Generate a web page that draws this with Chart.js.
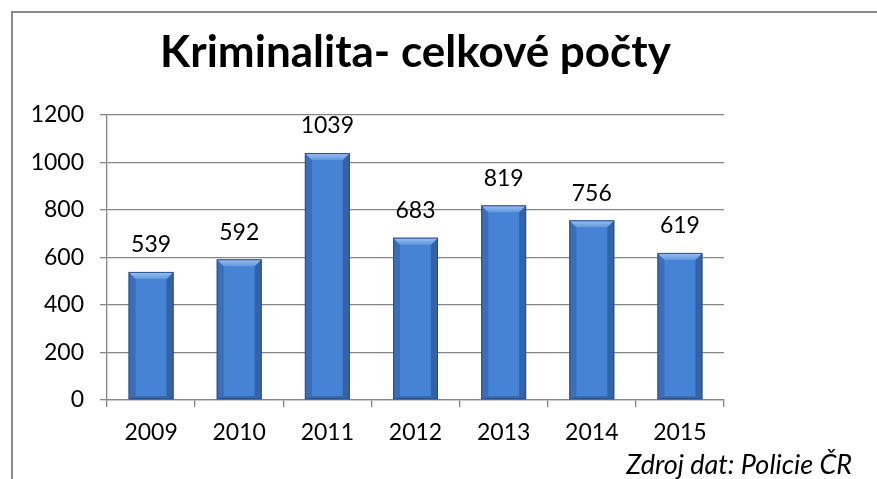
<!DOCTYPE html>
<html lang="cs">
<head>
    <meta charset="UTF-8">
    <title>Kriminalita</title>
    <script src="https://cdn.jsdelivr.net/npm/chart.js"></script>
    <style>
        body { margin: 0; background: #fff; }
        .ramecek {
            position: absolute; left: 11px; top: 11px; right: 0; bottom: 0;
            border-top: 2px solid #8c8c8c; border-left: 2px solid #8c8c8c;
        }
        .graf { position: absolute; left: 0; top: 0; width: 877px; height: 479px; }
    </style>
</head>
<body>
    <div class="ramecek"></div>
    <div class="graf"><canvas id="myChart" width="877" height="479"></canvas></div>

<script>
    var roky = ['2009', '2010', '2011', '2012', '2013', '2014', '2015'];
    var pocty = [539, 592, 1039, 683, 819, 756, 619];
    var nadpis = 'Kriminalita- celkové počty';
    var zdroj = 'Zdroj dat: Policie ČR';

    var seda = '#868686';

    // popisky nad sloupci
    var popisky = {
        id: 'popisky',
        afterDatasetsDraw: function (chart) {
            var ctx = chart.ctx;
            var meta = chart.getDatasetMeta(0);
            ctx.save();
            ctx.font = '23px Lato';
            ctx.fillStyle = '#000';
            ctx.textAlign = 'center';
            ctx.textBaseline = 'middle';
            meta.data.forEach(function (bar, i) {
                ctx.fillText(String(pocty[i]), bar.x, bar.y - 27);
            });
            ctx.restore();
        }
    };

    // zkosene hrany sloupcu
    var zkoseni = {
        id: 'zkoseni',
        afterDatasetsDraw: function (chart) {
            var ctx = chart.ctx;
            var meta = chart.getDatasetMeta(0);
            var b = 7;
            ctx.save();
            meta.data.forEach(function (bar) {
                var l = bar.x - bar.width / 2, r = bar.x + bar.width / 2;
                var t = bar.y, d = bar.base;
                // leva strana
                ctx.fillStyle = 'rgba(20,50,100,0.25)';
                ctx.beginPath();
                ctx.moveTo(l, t); ctx.lineTo(l + b, t + b); ctx.lineTo(l + b, d - 3); ctx.lineTo(l, d);
                ctx.closePath(); ctx.fill();
                // prava strana
                ctx.fillStyle = 'rgba(20,50,100,0.4)';
                ctx.beginPath();
                ctx.moveTo(r, t); ctx.lineTo(r - b, t + b); ctx.lineTo(r - b, d - 3); ctx.lineTo(r, d);
                ctx.closePath(); ctx.fill();
                // horni plocha
                var g = ctx.createLinearGradient(0, t, 0, t + b);
                g.addColorStop(0, '#9cc3f3');
                g.addColorStop(1, '#5f97de');
                ctx.fillStyle = g;
                ctx.beginPath();
                ctx.moveTo(l, t); ctx.lineTo(r, t); ctx.lineTo(r - b, t + b); ctx.lineTo(l + b, t + b);
                ctx.closePath(); ctx.fill();
                // spodni hrana
                ctx.fillStyle = 'rgba(20,50,100,0.35)';
                ctx.beginPath();
                ctx.moveTo(l, d); ctx.lineTo(r, d); ctx.lineTo(r - b, d - 3); ctx.lineTo(l + b, d - 3);
                ctx.closePath(); ctx.fill();
                // obrys
                ctx.strokeStyle = '#2a4d85';
                ctx.lineWidth = 1;
                ctx.strokeRect(l + 0.5, t + 0.5, bar.width - 1, d - t - 1);
            });
            ctx.restore();
        }
    };

    const ctx = document.getElementById('myChart');
    new Chart(ctx, {
        type: 'bar',
        data: {
            labels: roky,
            datasets: [{
                label: 'Kriminalita',
                data: pocty,
                backgroundColor: '#4783d4',
                borderWidth: 0,
                barPercentage: 0.51,
                categoryPercentage: 1
            }]
        },
        options: {
            responsive: false,
            animation: false,
            devicePixelRatio: 1,
            layout: { padding: { left: 0, right: 25, top: 0, bottom: 0 } },
            plugins: {
                legend: { display: false },
                tooltip: { enabled: false },
                title: {
                    display: true,
                    text: nadpis,
                    fullSize: false,
                    color: '#000',
                    font: { family: 'Lato', size: 44, weight: 'bold', lineHeight: 1.2 },
                    padding: { top: 26, bottom: 36 }
                },
                subtitle: {
                    display: true,
                    text: zdroj,
                    position: 'bottom',
                    align: 'end',
                    color: '#000',
                    font: { family: 'Lato', size: 27, style: 'italic', lineHeight: 1 },
                    padding: 0
                }
            },
            scales: {
                x: {
                    grid: { drawOnChartArea: false, color: seda, tickLength: 7, lineWidth: 1.3 },
                    border: { color: seda, width: 1.3 },
                    ticks: { color: '#000', font: { family: 'Lato', size: 23 }, padding: 12 },
                    afterFit: function (s) { s.height = 52; }
                },
                y: {
                    min: 0,
                    max: 1200,
                    grid: { color: seda, tickLength: 7, lineWidth: 1.3 },
                    border: { color: seda, width: 1.3 },
                    ticks: {
                        stepSize: 200, color: '#000', font: { family: 'Lato', size: 23 }, padding: 16,
                        callback: function (v) { return String(v); }
                    },
                    afterFit: function (s) { s.width = 107; }
                },
                vpravo: {
                    position: 'right',
                    grid: { display: false },
                    border: { display: false },
                    ticks: { display: false },
                    afterFit: function (s) { s.width = 128; }
                }
            }
        },
        plugins: [zkoseni, popisky]
    });
</script>
</body>
</html>
